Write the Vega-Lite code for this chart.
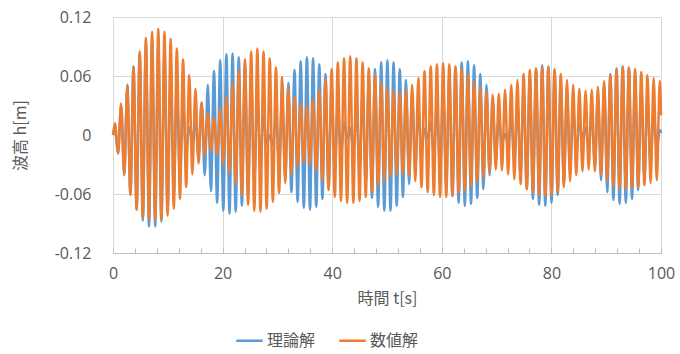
{
"$schema": "https://vega.github.io/schema/vega-lite/v6.json",
"width": 548, "height": 236,
"autosize": {"type": "none"},
"padding": {"left": 113, "top": 17, "right": 19, "bottom": 101},
"background": "white",
"config": {"view": {"stroke": null}},
"data": {"values": [
{"t":0,"th":0,"nu":0},
{"t":0.35,"th":0.007,"nu":0.012},{"t":0.92,"th":-0.019,"nu":-0.018},
{"t":1.48,"th":0.030,"nu":0.032},{"t":2.05,"th":-0.041,"nu":-0.040},
{"t":2.61,"th":0.051,"nu":0.050},{"t":3.18,"th":-0.060,"nu":-0.061},
{"t":3.74,"th":0.070,"nu":0.069},{"t":4.31,"th":-0.076,"nu":-0.076},
{"t":4.87,"th":0.083,"nu":0.085},{"t":5.44,"th":-0.087,"nu":-0.084},
{"t":6.00,"th":0.092,"nu":0.099},{"t":6.57,"th":-0.093,"nu":-0.086},
{"t":7.13,"th":0.095,"nu":0.105},{"t":7.70,"th":-0.093,"nu":-0.087},
{"t":8.26,"th":0.092,"nu":0.108},{"t":8.83,"th":-0.088,"nu":-0.086},
{"t":9.39,"th":0.084,"nu":0.105},{"t":9.96,"th":-0.077,"nu":-0.082},
{"t":10.52,"th":0.070,"nu":0.098},{"t":11.09,"th":-0.061,"nu":-0.075},
{"t":11.65,"th":0.052,"nu":0.088},{"t":12.22,"th":-0.042,"nu":-0.065},
{"t":12.78,"th":0.031,"nu":0.077},{"t":13.35,"th":-0.020,"nu":-0.053},
{"t":13.91,"th":0.008,"nu":0.061},{"t":14.48,"th":-0.003,"nu":-0.040},
{"t":15.04,"th":0.013,"nu":0.047},{"t":15.61,"th":-0.023,"nu":-0.029},
{"t":16.17,"th":0.033,"nu":0.033},{"t":16.74,"th":-0.041,"nu":-0.020},
{"t":17.30,"th":0.051,"nu":0.022},{"t":17.87,"th":-0.057,"nu":-0.016},
{"t":18.43,"th":0.065,"nu":0.017},{"t":19.00,"th":-0.069,"nu":-0.020},
{"t":19.56,"th":0.076,"nu":0.027},{"t":20.13,"th":-0.077,"nu":-0.029},
{"t":20.69,"th":0.082,"nu":0.039},{"t":21.26,"th":-0.080,"nu":-0.039},
{"t":21.82,"th":0.083,"nu":0.052},{"t":22.39,"th":-0.078,"nu":-0.050},
{"t":22.95,"th":0.079,"nu":0.065},{"t":23.52,"th":-0.072,"nu":-0.061},
{"t":24.08,"th":0.070,"nu":0.077},{"t":24.65,"th":-0.061,"nu":-0.071},
{"t":25.21,"th":0.057,"nu":0.085},{"t":25.78,"th":-0.047,"nu":-0.077},
{"t":26.34,"th":0.040,"nu":0.088},{"t":26.91,"th":-0.029,"nu":-0.078},
{"t":27.47,"th":0.020,"nu":0.085},{"t":28.04,"th":-0.010,"nu":-0.075},
{"t":28.60,"th":0.000,"nu":0.078},{"t":29.17,"th":-0.010,"nu":-0.068},
{"t":29.73,"th":0.019,"nu":0.069},{"t":30.30,"th":-0.028,"nu":-0.059},
{"t":30.86,"th":0.038,"nu":0.059},{"t":31.43,"th":-0.044,"nu":-0.049},
{"t":31.99,"th":0.053,"nu":0.048},{"t":32.56,"th":-0.058,"nu":-0.040},
{"t":33.12,"th":0.066,"nu":0.039},{"t":33.69,"th":-0.068,"nu":-0.032},
{"t":34.25,"th":0.075,"nu":0.032},{"t":34.82,"th":-0.074,"nu":-0.028},
{"t":35.38,"th":0.079,"nu":0.030},{"t":35.95,"th":-0.076,"nu":-0.030},
{"t":36.51,"th":0.078,"nu":0.036},{"t":37.08,"th":-0.073,"nu":-0.037},
{"t":37.64,"th":0.072,"nu":0.046},{"t":38.21,"th":-0.065,"nu":-0.047},
{"t":38.77,"th":0.062,"nu":0.057},{"t":39.34,"th":-0.054,"nu":-0.056},
{"t":39.90,"th":0.049,"nu":0.067},{"t":40.47,"th":-0.039,"nu":-0.063},
{"t":41.03,"th":0.032,"nu":0.074},{"t":41.60,"th":-0.022,"nu":-0.067},
{"t":42.16,"th":0.013,"nu":0.078},{"t":42.73,"th":-0.003,"nu":-0.069},
{"t":43.29,"th":0.007,"nu":0.080},{"t":43.86,"th":-0.016,"nu":-0.069},
{"t":44.42,"th":0.025,"nu":0.078},{"t":44.99,"th":-0.035,"nu":-0.067},
{"t":45.55,"th":0.042,"nu":0.074},{"t":46.12,"th":-0.051,"nu":-0.063},
{"t":46.68,"th":0.056,"nu":0.068},{"t":47.25,"th":-0.064,"nu":-0.058},
{"t":47.81,"th":0.067,"nu":0.061},{"t":48.38,"th":-0.073,"nu":-0.052},
{"t":48.94,"th":0.074,"nu":0.054},{"t":49.51,"th":-0.077,"nu":-0.047},
{"t":50.07,"th":0.076,"nu":0.048},{"t":50.64,"th":-0.077,"nu":-0.043},
{"t":51.20,"th":0.074,"nu":0.045},{"t":51.77,"th":-0.072,"nu":-0.040},
{"t":52.33,"th":0.067,"nu":0.044},{"t":52.90,"th":-0.063,"nu":-0.040},
{"t":53.46,"th":0.056,"nu":0.046},{"t":54.03,"th":-0.050,"nu":-0.042},
{"t":54.59,"th":0.041,"nu":0.051},{"t":55.16,"th":-0.034,"nu":-0.047},
{"t":55.72,"th":0.024,"nu":0.058},{"t":56.29,"th":-0.016,"nu":-0.053},
{"t":56.85,"th":0.006,"nu":0.065},{"t":57.42,"th":-0.003,"nu":-0.058},
{"t":57.98,"th":0.013,"nu":0.070},{"t":58.55,"th":-0.021,"nu":-0.061},
{"t":59.11,"th":0.031,"nu":0.072},{"t":59.68,"th":-0.037,"nu":-0.063},
{"t":60.24,"th":0.047,"nu":0.073},{"t":60.81,"th":-0.051,"nu":-0.063},
{"t":61.37,"th":0.060,"nu":0.072},{"t":61.94,"th":-0.062,"nu":-0.062},
{"t":62.50,"th":0.069,"nu":0.070},{"t":63.07,"th":-0.069,"nu":-0.059},
{"t":63.63,"th":0.074,"nu":0.067},{"t":64.20,"th":-0.072,"nu":-0.056},
{"t":64.76,"th":0.075,"nu":0.061},{"t":65.33,"th":-0.070,"nu":-0.052},
{"t":65.89,"th":0.071,"nu":0.055},{"t":66.46,"th":-0.064,"nu":-0.048},
{"t":67.02,"th":0.062,"nu":0.049},{"t":67.59,"th":-0.055,"nu":-0.043},
{"t":68.15,"th":0.051,"nu":0.044},{"t":68.72,"th":-0.041,"nu":-0.038},
{"t":69.28,"th":0.035,"nu":0.041},{"t":69.85,"th":-0.026,"nu":-0.035},
{"t":70.41,"th":0.018,"nu":0.042},{"t":70.98,"th":-0.008,"nu":-0.036},
{"t":71.54,"th":0.001,"nu":0.046},{"t":72.11,"th":-0.010,"nu":-0.040},
{"t":72.67,"th":0.018,"nu":0.051},{"t":73.24,"th":-0.027,"nu":-0.045},
{"t":73.80,"th":0.034,"nu":0.056},{"t":74.37,"th":-0.042,"nu":-0.050},
{"t":74.93,"th":0.049,"nu":0.062},{"t":75.50,"th":-0.055,"nu":-0.055},
{"t":76.06,"th":0.060,"nu":0.066},{"t":76.63,"th":-0.065,"nu":-0.059},
{"t":77.19,"th":0.067,"nu":0.068},{"t":77.76,"th":-0.071,"nu":-0.061},
{"t":78.32,"th":0.071,"nu":0.069},{"t":78.89,"th":-0.072,"nu":-0.062},
{"t":79.45,"th":0.070,"nu":0.069},{"t":80.02,"th":-0.069,"nu":-0.061},
{"t":80.58,"th":0.065,"nu":0.067},{"t":81.15,"th":-0.061,"nu":-0.058},
{"t":81.71,"th":0.056,"nu":0.062},{"t":82.28,"th":-0.050,"nu":-0.053},
{"t":82.84,"th":0.043,"nu":0.056},{"t":83.41,"th":-0.036,"nu":-0.047},
{"t":83.97,"th":0.028,"nu":0.051},{"t":84.54,"th":-0.020,"nu":-0.041},
{"t":85.10,"th":0.011,"nu":0.047},{"t":85.67,"th":-0.002,"nu":-0.037},
{"t":86.23,"th":0.007,"nu":0.045},{"t":86.80,"th":-0.015,"nu":-0.035},
{"t":87.36,"th":0.024,"nu":0.046},{"t":87.93,"th":-0.032,"nu":-0.037},
{"t":88.49,"th":0.039,"nu":0.049},{"t":89.06,"th":-0.046,"nu":-0.041},
{"t":89.62,"th":0.052,"nu":0.055},{"t":90.19,"th":-0.058,"nu":-0.047},
{"t":90.75,"th":0.062,"nu":0.061},{"t":91.32,"th":-0.066,"nu":-0.052},
{"t":91.88,"th":0.068,"nu":0.066},{"t":92.45,"th":-0.070,"nu":-0.055},
{"t":93.01,"th":0.070,"nu":0.069},{"t":93.58,"th":-0.069,"nu":-0.055},
{"t":94.14,"th":0.068,"nu":0.069},{"t":94.71,"th":-0.065,"nu":-0.054},
{"t":95.27,"th":0.061,"nu":0.067},{"t":95.84,"th":-0.056,"nu":-0.053},
{"t":96.40,"th":0.051,"nu":0.064},{"t":96.97,"th":-0.044,"nu":-0.051},
{"t":97.53,"th":0.038,"nu":0.061},{"t":98.10,"th":-0.030,"nu":-0.049},
{"t":98.66,"th":0.022,"nu":0.058},{"t":99.23,"th":-0.013,"nu":-0.046},
{"t":99.79,"th":0.005,"nu":0.055},{"t":100,"th":0.002,"nu":0.020}
]},
"encoding": {
  "x": {"field": "t", "type": "quantitative",
    "scale": {"domain": [0, 100], "nice": false, "zero": false},
    "axis": {"title": "時間 t[s]",
      "values": [0,4,8,12,16,20,24,28,32,36,40,44,48,52,56,60,64,68,72,76,80,84,88,92,96,100],
      "labelExpr": "datum.value % 20 === 0 ? datum.label : ''",
      "labelOverlap": false, "labelFlush": false,
      "grid": true, "gridColor": "#d9d9d9",
      "gridOpacity": {"condition": {"test": "datum.value % 20 === 0", "value": 1}, "value": 0},
      "ticks": true, "tickSize": -5, "tickColor": "#bfbfbf",
      "domain": true, "domainColor": "#bfbfbf",
      "labelPadding": 17, "labelFont": "Open Sans", "labelFontSize": 16, "labelColor": "#595959",
      "titleFont": "Noto Sans CJK JP", "titleFontSize": 16, "titleFontWeight": "normal", "titleColor": "#595959",
      "titlePadding": 9}}
},
"layer": [
  {"mark": {"type": "line", "interpolate": "monotone", "strokeWidth": 2.5},
   "encoding": {
     "y": {"field": "th", "type": "quantitative", "title": "波高 h[m]",
       "scale": {"domain": [-0.12, 0.12], "nice": false},
       "axis": {"title": "波高 h[m]", "values": [-0.12, -0.06, 0, 0.06, 0.12],
         "labelExpr": "replace(format(datum.value, '.2~f'), '−', '-')",
         "ticks": false, "domain": false, "grid": true, "gridColor": "#d9d9d9",
         "labelPadding": 22, "labelFont": "Open Sans", "labelFontSize": 16, "labelColor": "#595959",
         "titleFont": "Noto Sans CJK JP", "titleFontSize": 16, "titleFontWeight": "normal", "titleColor": "#595959",
         "titlePadding": 26}},
     "color": {"datum": "理論解", "type": "nominal",
       "scale": {"domain": ["理論解", "数値解"], "range": ["#5B9BD5", "#ED7D31"]},
       "legend": {"orient": "none", "legendX": 122, "legendY": 309, "direction": "horizontal", "title": null,
         "symbolType": "stroke", "symbolSize": 700, "symbolStrokeWidth": 2.5,
         "labelFont": "Noto Sans CJK JP", "labelFontSize": 16, "labelColor": "#595959",
         "columnPadding": 18, "labelOffset": 3}}
   }},
  {"mark": {"type": "line", "interpolate": "monotone", "strokeWidth": 2.5},
   "encoding": {
     "y": {"field": "nu", "type": "quantitative", "title": "波高 h[m]"},
     "color": {"datum": "数値解", "type": "nominal"}
   }}
]
}
